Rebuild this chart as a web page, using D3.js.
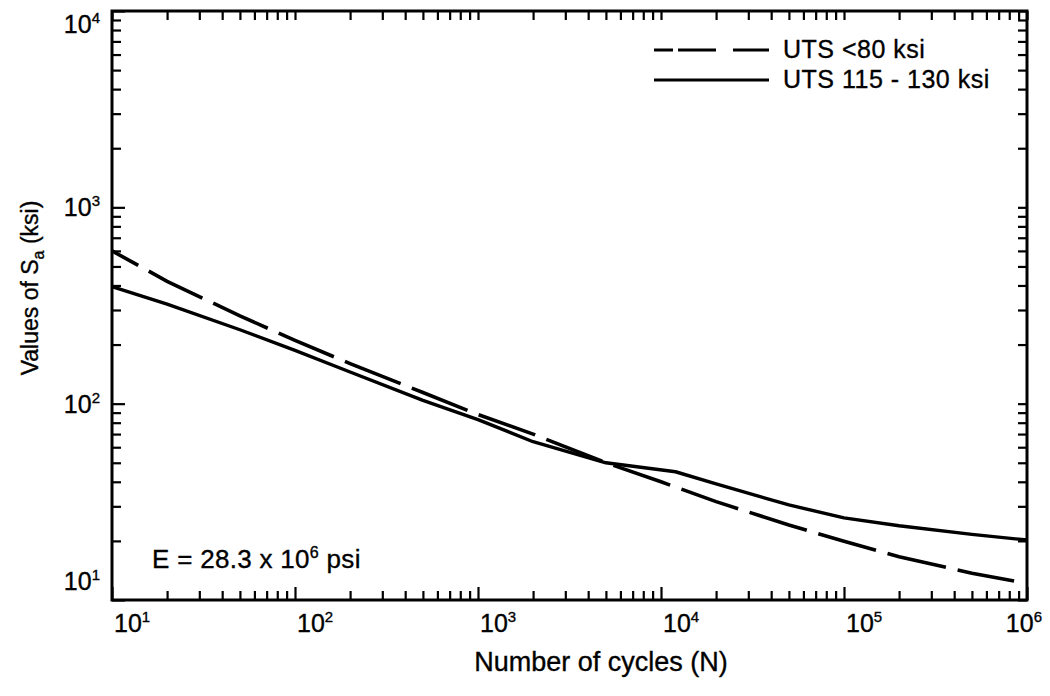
<!DOCTYPE html>
<html>
<head>
<meta charset="utf-8">
<script src="https://cdn.jsdelivr.net/npm/d3@7"></script>
<style>
    body { margin: 0; background: #fff; }
    svg { display: block; }
    text { font-family: "Liberation Sans", Arial, Helvetica, sans-serif; fill: #000; stroke: #000; stroke-width: 0.35px; }
</style>
</head>
<body>
<script>
// fatigue curves (N in cycles, Sa in ksi)
const cyclesDashed = [10, 20, 50, 100, 200, 500, 1e3, 2e3, 5e3, 1e4, 2e4, 5e4, 1e5, 2e5, 5e5, 8.5e5]
const saDashed = [600, 420, 280, 210, 160, 114, 88, 70, 50, 40, 31.7, 24.1, 19.9, 16.6, 13.7, 12.5]

const cyclesSolid = [10, 20, 50, 100, 200, 500, 1e3, 2e3, 5e3, 1.2e4, 2e4, 5e4, 1e5, 2e5, 5e5, 1e6]
const saSolid = [395, 321, 238, 187, 145, 104, 83, 64, 50, 45, 39, 30.5, 26.2, 23.9, 21.6, 20.2]

const seriesNames = ["UTS <80 ksi", "UTS 115 - 130 ksi"]
const xDecades = [1, 2, 3, 4, 5, 6]
const yDecades = [1, 2, 3, 4]

const width = 1050
const height = 696

const x = d3.scaleLog().domain([10, 1e6]).range([112, 1027])
const y = d3.scaleLog().domain([10, 1e4]).range([600, 11])

const isMajor = d => Math.abs(Math.log10(d) - Math.round(Math.log10(d))) < 1e-9

const svg = d3.select("body").append("svg")
    .attr("width", width)
    .attr("height", height)

// ticks on all four sides, pointing inward
function frameAxis(gen, tx, ty, attr, minor, major) {
    const g = svg.append("g")
        .attr("transform", `translate(${tx},${ty})`)
        .call(gen.tickSizeOuter(0).tickFormat(""))
    g.select(".domain").remove()
    g.selectAll(".tick line")
        .attr(attr, d => isMajor(d) ? major : minor)
        .attr("stroke", "#000")
        .attr("stroke-width", 2.2)
    return g
}

frameAxis(d3.axisBottom(x).tickValues(x.ticks()), 0, y.range()[0], "y2", -9, -13)
frameAxis(d3.axisTop(x).tickValues(x.ticks()), 0, y.range()[1], "y2", 9, 9)
frameAxis(d3.axisLeft(y).tickValues(y.ticks()), x.range()[0], 0, "x2", 9, 13)
frameAxis(d3.axisRight(y).tickValues(y.ticks()), x.range()[1], 0, "x2", -9, -9)

svg.append("rect")
    .attr("x", x.range()[0])
    .attr("y", y.range()[1])
    .attr("width", x.range()[1] - x.range()[0])
    .attr("height", y.range()[0] - y.range()[1])
    .attr("fill", "none")
    .attr("stroke", "#000")
    .attr("stroke-width", 3)

// power-of-ten labels
const xLabels = svg.append("g")
xDecades.forEach(e => {
    const t = xLabels.append("text")
        .attr("x", x(Math.pow(10, e)) + 2)
        .attr("y", 632)
        .attr("font-size", "25px")
    t.append("tspan").text("10")
    t.append("tspan").text(e).attr("font-size", "15px").attr("dy", -10)
    // keep the last label inside the page like the original
    const w = t.node().getComputedTextLength()
    if (x(Math.pow(10, e)) + w > 1042) t.attr("x", 1042 - w)
})

const yLabels = svg.append("g")
yDecades.forEach(e => {
    const yc = Math.min(Math.max(y(Math.pow(10, e)), 24), 581)
    const t = yLabels.append("text")
        .attr("x", 100)
        .attr("y", yc + 9)
        .attr("text-anchor", "end")
        .attr("font-size", "25px")
    t.append("tspan").text("10")
    t.append("tspan").text(e).attr("font-size", "15px").attr("dy", -10)
})

// axis titles
svg.append("text")
    .attr("x", 601)
    .attr("y", 671)
    .attr("text-anchor", "middle")
    .attr("font-size", "27px")
    .text("Number of cycles (N)")

const yTitle = svg.append("text")
    .attr("transform", "translate(38,288) rotate(-90)")
    .attr("text-anchor", "middle")
    .attr("font-size", "23px")
yTitle.append("tspan").text("Values of S")
yTitle.append("tspan").text("a").attr("font-size", "16px").attr("dy", 6)
yTitle.append("tspan").text(" (ksi)").attr("dy", -6)

// curves
const line = d3.line()
    .x(d => x(d[0]))
    .y(d => y(d[1]))

svg.append("path")
    .datum(d3.zip(cyclesDashed, saDashed))
    .attr("d", line)
    .attr("fill", "none")
    .attr("stroke", "#000")
    .attr("stroke-width", 3.6)
    .attr("stroke-dasharray", "60,12")
    .attr("stroke-dashoffset", 30)

svg.append("path")
    .datum(d3.zip(cyclesSolid, saSolid))
    .attr("d", line)
    .attr("fill", "none")
    .attr("stroke", "#000")
    .attr("stroke-width", 3.4)
    .attr("stroke-linejoin", "round")

// legend
const legend = svg.append("g")
const legendRows = [
    {name: seriesNames[0], dash: "19,5,38,17,36", y: 50},
    {name: seriesNames[1], dash: null, y: 80}
]
legendRows.forEach(r => {
    legend.append("line")
        .attr("x1", 654).attr("x2", 769)
        .attr("y1", r.y).attr("y2", r.y)
        .attr("stroke", "#000")
        .attr("stroke-width", 3)
        .attr("stroke-dasharray", r.dash)
    legend.append("text")
        .attr("x", 783)
        .attr("y", r.y + 8)
        .attr("font-size", "25px")
        .attr("letter-spacing", "0.5px")
        .text(r.name)
})

// material note
const note = svg.append("text")
    .attr("x", 152)
    .attr("y", 568)
    .attr("font-size", "26px")
    .attr("letter-spacing", "0.3px")
note.append("tspan").text("E = 28.3 x 10")
note.append("tspan").text("6").attr("font-size", "16px").attr("dy", -10)
note.append("tspan").text(" psi").attr("dy", 10)
</script>
</body>
</html>
